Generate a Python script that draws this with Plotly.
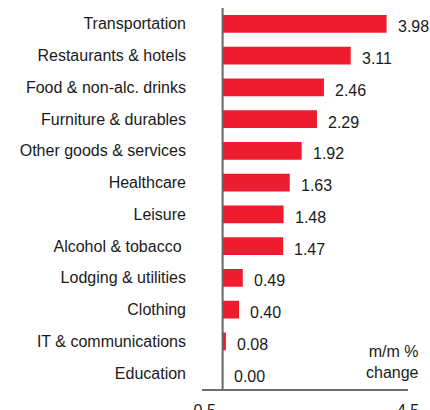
import plotly.graph_objects as go

categories = ["Transportation", "Restaurants & hotels", "Food & non-alc. drinks",
              "Furniture & durables", "Other goods & services", "Healthcare",
              "Leisure", "Alcohol & tobacco ", "Lodging & utilities", "Clothing",
              "IT & communications", "Education"]
values = [3.98, 3.11, 2.46, 2.29, 1.92, 1.63, 1.48, 1.47, 0.49, 0.40, 0.08, 0.00]
tick_vals = [-0.5, 4.5]
tick_text = ["-0.5", "4.5"]

FONT = "Liberation Sans, Arial, sans-serif"

fig = go.Figure()
fig.add_trace(go.Bar(
    x=values, y=categories, orientation="h",
    marker=dict(color="#ED1C2E", line=dict(width=0)),
    width=0.56,
    hoverinfo="skip",
))

for c, v in zip(categories, values):
    fig.add_annotation(x=v, y=c, text=f"{v:.2f}", showarrow=False,
                       xanchor="left", yanchor="middle", xshift=9, yshift=-3,
                       font=dict(family=FONT, size=16, color="#1a1a1a"))

fig.add_annotation(x=1, y=0, xref="paper", yref="paper", xanchor="right", yanchor="bottom",
                   text="m/m %<br>change", showarrow=False, align="right", xshift=13, yshift=6,
                   font=dict(family=FONT, size=16, color="#1a1a1a"))

fig.add_shape(type="line", x0=0, x1=0, xref="x", y0=0, y1=1, yref="paper",
              line=dict(color="#666666", width=2), layer="above")

fig.update_layout(
    width=430, height=410,
    margin=dict(l=202, r=22, t=8, b=21),
    paper_bgcolor="white", plot_bgcolor="white",
    showlegend=False,
    font=dict(family=FONT, size=16, color="#1a1a1a"),
    xaxis=dict(range=[-0.5, 4.5], tickvals=tick_vals, ticktext=tick_text,
               showgrid=False, zeroline=False, automargin=False,
               showline=True, linecolor="#6e6e6e", linewidth=2,
               ticks="outside", ticklen=6, tickcolor="rgba(0,0,0,0)",
               tickfont=dict(family=FONT, size=16, color="#1a1a1a")),
    yaxis=dict(categoryorder="array", categoryarray=categories, autorange="reversed",
               showgrid=False, zeroline=False, showline=False, automargin=False,
               ticks="", ticklabelstandoff=15,
               tickfont=dict(family=FONT, size=16, color="#1a1a1a")),
)

fig.write_html("out.html")
